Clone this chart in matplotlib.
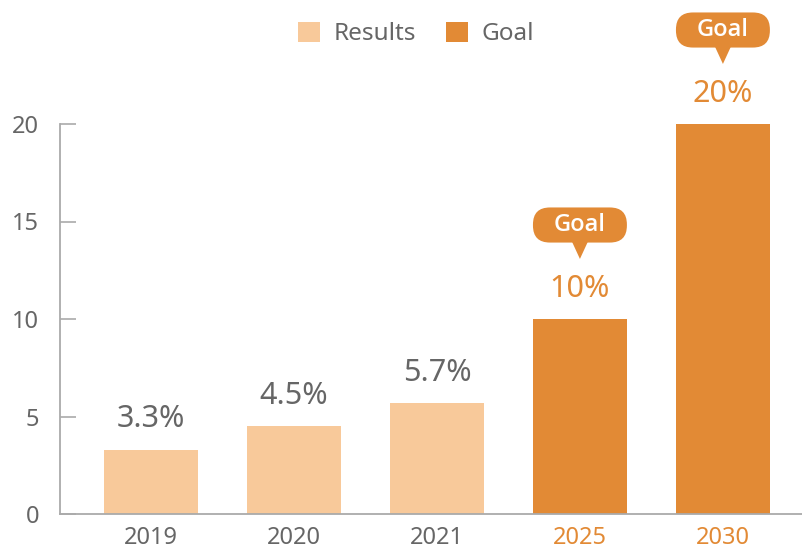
import matplotlib.pyplot as plt
from matplotlib.patches import FancyBboxPatch, Polygon, Patch

plt.rcParams['font.family'] = ['Noto Sans', 'DejaVu Sans']

years = ['2019', '2020', '2021', '2025', '2030']
values = [3.3, 4.5, 5.7, 10, 20]
labels = ['3.3%', '4.5%', '5.7%', '10%', '20%']
is_goal = [False, False, False, True, True]
yticks = [0, 5, 10, 15, 20]

light = '#F8C99A'
dark = '#E28A35'
gray = '#666666'
axis_gray = '#AAAAAA'

fig = plt.figure(figsize=(8.03, 5.5), dpi=100)
ax = fig.add_axes([60 / 803, 36 / 550, 1 - 60 / 803, (514 - 124) / 550])

x = list(range(len(years)))
cols = [dark if g else light for g in is_goal]
ax.bar(x, values, width=0.657, color=cols, zorder=2)

ax.set_xlim(-0.636, 4.56)
ax.set_ylim(0, 20)

for s in ['top', 'right']:
    ax.spines[s].set_visible(False)
for s in ['left', 'bottom']:
    ax.spines[s].set_color(axis_gray)
    ax.spines[s].set_linewidth(1.3)

ax.set_yticks(yticks)
ax.tick_params(axis='y', direction='in', length=11.5, width=1.2, color=axis_gray,
               labelsize=17, labelcolor=gray, pad=15)
ax.set_xticks(x)
ax.set_xticklabels(years)
ax.tick_params(axis='x', length=0, labelsize=17, pad=9)
for lbl, g in zip(ax.get_xticklabels(), is_goal):
    lbl.set_color(dark if g else gray)

# value labels
for xi, v, t, g in zip(x, values, labels, is_goal):
    ax.text(xi, v + 1.55, t, ha='center', va='center', fontsize=22,
            color=dark if g else gray, clip_on=False)

# Goal bubbles
px_x = 143.0
px_y = 19.5
bw = 0.657
for xi, v, g in zip(x, values, is_goal):
    if not g:
        continue
    y0 = v + 3.92
    h = 1.8
    box = FancyBboxPatch((xi - bw / 2, y0), bw, h,
                         boxstyle='round,pad=0,rounding_size=%f' % (17 / px_x),
                         mutation_aspect=px_x / px_y,
                         facecolor=dark, edgecolor='none', clip_on=False, zorder=3)
    ax.add_patch(box)
    tri = Polygon([(xi - 8 / px_x, y0 + 0.05), (xi + 8 / px_x, y0 + 0.05), (xi, v + 3.08)],
                  closed=True, facecolor=dark, edgecolor='none', clip_on=False, zorder=3)
    ax.add_patch(tri)
    ax.text(xi, y0 + h / 2, 'Goal', ha='center', va='center', fontsize=17,
            fontweight='semibold', family=['Open Sans', 'DejaVu Sans'],
            color='white', clip_on=False, zorder=4)

handles = [Patch(facecolor=light, edgecolor='none', label='Results'),
           Patch(facecolor=dark, edgecolor='none', label='Goal')]
leg = fig.legend(handles=handles, loc='center', bbox_to_anchor=(416 / 803, 1 - 34 / 550),
                 ncol=2, frameon=False, fontsize=17.5, handlelength=0.9, handleheight=0.9,
                 handletextpad=0.55, columnspacing=1.25)
for t in leg.get_texts():
    t.set_color(gray)

fig.savefig('out.png', dpi=100)
